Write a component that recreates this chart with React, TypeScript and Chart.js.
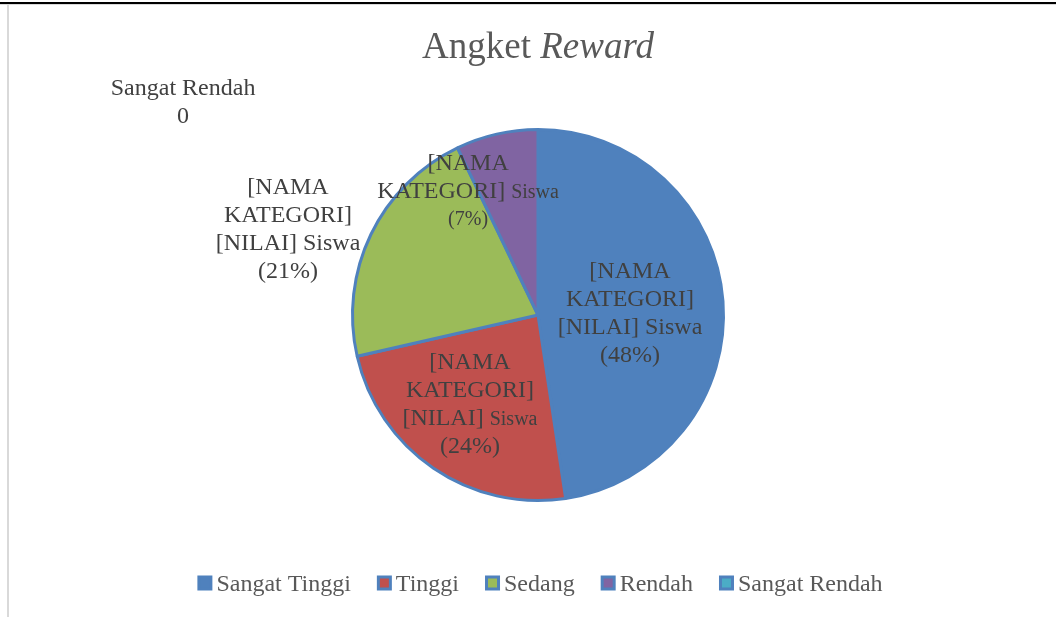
import React, { useEffect, useRef } from "react";
import { Chart, registerables } from "chart.js";

Chart.register(...registerables);

// ---- data ----
const categories = ["Sangat Tinggi", "Tinggi", "Sedang", "Rendah", "Sangat Rendah"];
const studentCounts = [20, 10, 9, 3, 0];
const sliceColors = ["#4F81BD", "#C0504D", "#9BBB59", "#8064A2", "#4BACC6"];
const titleMain = "Angket ";
const titleItalic = "Reward";
const placeholderName = "[NAMA KATEGORI]";
const placeholderValue = "[NILAI]";
const unitText = "Siswa";

// ---- label presentation (style + placement relative to pie centre, in radius units) ----
const labelStyles = ["full", "smallUnit", "full", "noValue", "nameValue"];
const labelOffsets: [number, number][] = [
  [0.492, -0.016],
  [-0.364, 0.471],
  [-1.337, -0.465],
  [-0.374, -0.668],
  [-1.898, -1.144],
];

const SERIF = "'Liberation Serif', 'Times New Roman', serif";
const BIG = 24;
const SMALL = 20;
const LINE_H = 28;

type Seg = { t: string; s: number; i?: boolean };

function buildLines(idx: number, pct: number): Seg[][] {
  const style = labelStyles[idx];
  const [nameA, nameB] = placeholderName.split(" ");
  const p = `(${pct}%)`;
  if (style === "full") {
    return [[{ t: nameA, s: BIG }], [{ t: nameB, s: BIG }], [{ t: `${placeholderValue} ${unitText}`, s: BIG }], [{ t: p, s: BIG }]];
  }
  if (style === "smallUnit") {
    return [
      [{ t: nameA, s: BIG }],
      [{ t: nameB, s: BIG }],
      [{ t: `${placeholderValue} `, s: BIG }, { t: unitText, s: SMALL }],
      [{ t: p, s: BIG }],
    ];
  }
  if (style === "noValue") {
    return [[{ t: nameA, s: BIG }], [{ t: `${nameB} `, s: BIG }, { t: unitText, s: SMALL }], [{ t: p, s: SMALL }]];
  }
  return [[{ t: categories[idx], s: BIG }], [{ t: String(studentCounts[idx]), s: BIG }]];
}

function drawSegLine(ctx: CanvasRenderingContext2D, segs: Seg[], cx: number, midY: number) {
  let total = 0;
  const widths = segs.map((sg) => {
    ctx.font = `${sg.i ? "italic " : ""}${sg.s}px ${SERIF}`;
    const w = ctx.measureText(sg.t).width;
    total += w;
    return w;
  });
  let x = cx - total / 2;
  const maxS = Math.max(...segs.map((s) => s.s));
  const baseY = midY + maxS * 0.33;
  segs.forEach((sg, k) => {
    ctx.font = `${sg.i ? "italic " : ""}${sg.s}px ${SERIF}`;
    ctx.textAlign = "left";
    ctx.textBaseline = "alphabetic";
    ctx.fillText(sg.t, x, baseY);
    x += widths[k];
  });
}

const decorPlugin = {
  id: "decor",
  beforeDraw(chart: any) {
    const ctx = chart.ctx as CanvasRenderingContext2D;
    const W = chart.width;
    const H = chart.height;
    ctx.save();
    ctx.fillStyle = "#FFFFFF";
    ctx.fillRect(0, 0, W, H);
    ctx.fillStyle = "#000000";
    ctx.fillRect(0, 2, W, 2);
    ctx.fillStyle = "#D9D9D9";
    ctx.fillRect(0, 4, W, 1);
    ctx.fillRect(7, 4, 2, H - 4);
    ctx.restore();
  },
  afterDraw(chart: any) {
    const ctx = chart.ctx as CanvasRenderingContext2D;
    const meta = chart.getDatasetMeta(0);
    const first = meta.data[0];
    const cx = first.x;
    const cy = first.y;
    const R = first.outerRadius + 1.5;
    const total = studentCounts.reduce((a, b) => a + b, 0);

    ctx.save();
    // title
    ctx.fillStyle = "#595959";
    drawSegLine(ctx, [{ t: titleMain, s: 37 }, { t: titleItalic, s: 37, i: true }], cx, 46);

    // data labels
    ctx.fillStyle = "#404040";
    studentCounts.forEach((v, i) => {
      const pct = Math.round((v / total) * 100);
      const lines = buildLines(i, pct);
      const bx = cx + labelOffsets[i][0] * R;
      const by = cy + labelOffsets[i][1] * R;
      const startY = by - ((lines.length - 1) * LINE_H) / 2;
      lines.forEach((ln, k) => drawSegLine(ctx, ln, bx, startY + k * LINE_H));
    });

    // legend
    const box = 15;
    const boxGap = 4;
    const itemGap = 26;
    ctx.font = `${BIG}px ${SERIF}`;
    const widths = categories.map((c) => ctx.measureText(c).width);
    const full = widths.reduce((a, w) => a + box + boxGap + w, 0) + itemGap * (categories.length - 1);
    let x = 540 - full / 2;
    const ly = 583;
    categories.forEach((c, i) => {
      ctx.fillStyle = "#4F81BD";
      ctx.fillRect(x, ly - box / 2, box, box);
      ctx.fillStyle = sliceColors[i];
      ctx.fillRect(x + 3, ly - box / 2 + 3, box - 6, box - 6);
      ctx.fillStyle = "#595959";
      ctx.font = `${BIG}px ${SERIF}`;
      ctx.textAlign = "left";
      ctx.textBaseline = "alphabetic";
      ctx.fillText(c, x + box + boxGap, ly + BIG * 0.33);
      x += box + boxGap + widths[i] + itemGap;
    });
    ctx.restore();
  },
};

export default function App() {
  const ref = useRef<HTMLCanvasElement | null>(null);
  useEffect(() => {
    if (!ref.current) return;
    const chart = new Chart(ref.current, {
      type: "pie",
      data: {
        labels: categories,
        datasets: [
          {
            data: studentCounts,
            backgroundColor: sliceColors,
            borderColor: "#4F81BD",
            borderWidth: 3,
          },
        ],
      },
      options: {
        responsive: false,
        animation: false,
        events: [],
        radius: 185.5,
        layout: { padding: { left: 120, right: 100, top: 100, bottom: 87 } },
        plugins: {
          legend: { display: false },
          title: { display: false },
          tooltip: { enabled: false },
        },
      } as any,
      plugins: [decorPlugin],
    });
    return () => chart.destroy();
  }, []);
  return (
    <div style={{ position: "fixed", left: 0, top: 0, width: 1056, height: 617, background: "#fff" }}>
      <canvas ref={ref} width={1056} height={617} style={{ display: "block", width: 1056, height: 617 }} />
    </div>
  );
}
